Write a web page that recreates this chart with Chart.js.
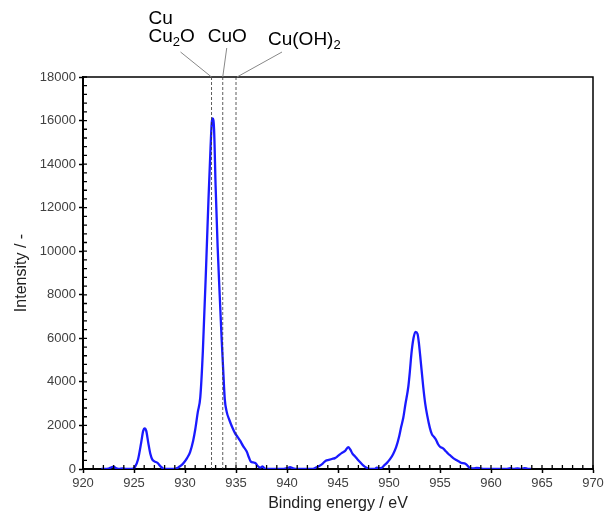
<!DOCTYPE html>
<html lang="en">
<head>
    <meta charset="UTF-8">
    <title>Cu 2p XPS spectrum</title>
    <style>
        body {
            margin: 0;
            padding: 0;
            background-color: #fff;
        }
        #chartBox {
            width: 614px;
            height: 513px;
        }
    </style>
    <script src="https://cdn.jsdelivr.net/npm/chart.js"></script>
</head>
<body>
    <div id="chartBox">
        <canvas id="xpsChart" width="614" height="513"></canvas>
    </div>
    <script>
        // binding energy (eV) and intensity
        var energy = [
            921.8, 922.2, 922.5, 922.8, 923.0, 923.2, 923.5, 923.9, 924.2, 924.8,
            925.1, 925.4, 925.7, 925.9, 926.05, 926.2, 926.4, 926.6, 926.8, 927.0,
            927.3, 927.6, 927.9, 928.2, 929.0, 929.3, 929.6, 929.9, 930.2, 930.5,
            930.8, 931.0, 931.25, 931.5, 931.75, 932.1, 932.3, 932.5, 932.62, 932.72,
            932.85, 933.0, 933.2, 933.4, 933.6, 933.75, 933.9, 934.1, 934.35, 934.6,
            934.9, 935.15, 935.4, 935.7, 936.05, 936.25, 936.45, 936.7, 936.9, 937.1,
            937.4, 937.6, 937.8, 938.2, 939.5, 940.0, 940.3, 940.6, 941.0, 942.5,
            942.8, 943.2, 943.5, 943.8, 944.1, 944.4, 944.7, 945.0, 945.35, 945.7,
            946.0, 946.2, 946.4, 946.7, 946.9, 947.2, 947.5, 947.8, 948.1, 948.6,
            948.8, 949.0, 949.3, 949.5, 949.8, 950.1, 950.4, 950.7, 951.0, 951.2,
            951.4, 951.6, 951.9, 952.05, 952.2, 952.4, 952.6, 952.8, 952.95, 953.1,
            953.35, 953.55, 953.75, 954.0, 954.2, 954.4, 954.6, 954.8, 955.0, 955.3,
            955.6, 955.8, 956.0, 956.3, 956.6, 956.9, 957.1, 957.4, 957.6, 957.8,
            958.0, 958.3, 958.6, 958.9, 959.3, 961.5, 961.9, 962.2, 962.6, 962.9,
            963.3, 963.6, 963.9
        ];
        var intensity = [
            0, 0, 20, 80, 110, 40, 0, 30, 0, 0,
            100, 450, 1200, 1750, 1870, 1750, 1200, 700, 430, 350,
            280, 120, 10, 0, 0, 60, 150, 300, 500, 780,
            1300, 1800, 2600, 3300, 5400, 9700, 12350, 14700, 15900, 16100,
            15600, 13000, 10200, 8000, 5900, 4500, 3200, 2600, 2250, 1950,
            1650, 1480, 1300, 1050, 800, 550, 340, 300, 280, 150,
            60, 120, 20, 0, 0, 40, 80, 30, 0, 0,
            60, 150, 250, 380, 420, 460, 500, 600, 730, 830,
            1000, 900, 720, 560, 450, 300, 160, 60, 0, 0,
            60, 40, 60, 150, 280, 450, 680, 1000, 1500, 1950,
            2350, 2950, 3800, 4500, 5300, 6000, 6300, 6200, 5700, 5000,
            3800, 3000, 2450, 1900, 1600, 1480, 1350, 1150, 1020, 950,
            800, 700, 620, 500, 410, 330, 280, 260, 200, 100,
            40, 30, 50, 40, 0, 0, 40, 0, 30, 0,
            40, 10, 0
        ];
        // reference positions (eV) for the marked species
        var refEnergy = [932.6, 933.7, 935.0];

        var points = energy.map(function (e, i) { return { x: e, y: intensity[i] }; });

        // frame, inner ticks, dashed reference lines and their labels
        var decorPlugin = {
            id: 'decor',
            afterDraw: function (chart) {
                var ctx = chart.ctx;
                var xs = chart.scales.x, ys = chart.scales.y;
                var a = chart.chartArea;
                ctx.save();

                // top and right frame
                ctx.strokeStyle = '#000';
                ctx.lineWidth = 1.5;
                ctx.beginPath();
                ctx.moveTo(a.left, a.top);
                ctx.lineTo(a.right, a.top);
                ctx.lineTo(a.right, a.bottom);
                ctx.stroke();

                // inner ticks
                ctx.lineWidth = 1.3;
                ctx.beginPath();
                for (var v = 920; v <= 970; v += 1) {
                    var px = xs.getPixelForValue(v);
                    ctx.moveTo(px, a.bottom);
                    ctx.lineTo(px, a.bottom - 4);
                }
                for (var w = 0; w <= 18000; w += 400) {
                    var py = ys.getPixelForValue(w);
                    ctx.moveTo(a.left, py);
                    ctx.lineTo(a.left + 4, py);
                }
                ctx.stroke();

                // dashed reference lines
                ctx.strokeStyle = '#333';
                ctx.lineWidth = 0.8;
                ctx.setLineDash([3, 2]);
                ctx.beginPath();
                var linePx = refEnergy.map(function (e) { return xs.getPixelForValue(e); });
                linePx.forEach(function (px) {
                    ctx.moveTo(px, a.top);
                    ctx.lineTo(px, a.bottom);
                });
                ctx.stroke();
                ctx.setLineDash([]);

                // connectors from labels
                ctx.strokeStyle = '#888';
                ctx.lineWidth = 1;
                ctx.beginPath();
                ctx.moveTo(linePx[0] - 31, a.top - 25);
                ctx.lineTo(linePx[0], a.top);
                ctx.moveTo(linePx[1] + 4, a.top - 29);
                ctx.lineTo(linePx[1], a.top);
                ctx.moveTo(linePx[2] + 46, a.top - 25);
                ctx.lineTo(linePx[2] + 1, a.top);
                ctx.stroke();

                // labels
                ctx.fillStyle = '#000';
                ctx.textBaseline = 'alphabetic';
                ctx.textAlign = 'left';
                function chem(parts, x, y) {
                    parts.forEach(function (p) {
                        var sub = p.charAt(0) === '_';
                        var t = sub ? p.slice(1) : p;
                        ctx.font = (sub ? '13px' : '19px') + ' "Liberation Sans", Arial, sans-serif';
                        ctx.fillText(t, x, sub ? y + 4 : y);
                        x += ctx.measureText(t).width;
                    });
                }
                chem(['Cu'], linePx[0] - 63, a.top - 53);
                chem(['Cu', '_2', 'O'], linePx[0] - 63, a.top - 35);
                chem(['CuO'], linePx[1] - 15, a.top - 35);
                chem(['Cu(OH)', '_2'], linePx[2] + 32, a.top - 32);

                ctx.restore();
            }
        };

        function plainNumber(value) {
            return String(value);
        }

        var ctx = document.getElementById('xpsChart').getContext('2d');
        var xpsChart = new Chart(ctx, {
            type: 'scatter',
            data: {
                datasets: [{
                    data: points,
                    showLine: true,
                    borderColor: '#1a1aff',
                    borderWidth: 2.3,
                    pointRadius: 0,
                    cubicInterpolationMode: 'monotone',
                    fill: false
                }]
            },
            options: {
                responsive: false,
                animation: false,
                layout: {
                    padding: { top: 77, right: 21, left: 0, bottom: 0 }
                },
                plugins: {
                    legend: { display: false },
                    tooltip: { enabled: false }
                },
                scales: {
                    x: {
                        type: 'linear',
                        min: 920,
                        max: 970,
                        afterFit: function (scale) { scale.height = 44; },
                        ticks: {
                            stepSize: 5,
                            padding: 3,
                            color: '#404040',
                            callback: plainNumber,
                            font: { family: '"Liberation Sans", Arial, sans-serif', size: 13 }
                        },
                        grid: {
                            drawOnChartArea: false,
                            tickLength: 4,
                            tickColor: '#000',
                            tickWidth: 1.5
                        },
                        border: { color: '#000', width: 2 },
                        title: {
                            display: true,
                            text: 'Binding energy / eV',
                            color: '#222',
                            padding: { top: 0, bottom: 0 },
                            font: { family: '"Liberation Sans", Arial, sans-serif', size: 16 }
                        }
                    },
                    y: {
                        min: 0,
                        max: 18000,
                        afterFit: function (scale) { scale.width = 83; },
                        ticks: {
                            stepSize: 2000,
                            padding: 3,
                            color: '#404040',
                            callback: plainNumber,
                            font: { family: '"Liberation Sans", Arial, sans-serif', size: 13 }
                        },
                        grid: {
                            drawOnChartArea: false,
                            tickLength: 4,
                            tickColor: '#000',
                            tickWidth: 1.5
                        },
                        border: { color: '#000', width: 2 },
                        title: {
                            display: true,
                            text: 'Intensity / -',
                            color: '#222',
                            padding: { top: 12, bottom: 0 },
                            font: { family: '"Liberation Sans", Arial, sans-serif', size: 16 }
                        }
                    }
                }
            },
            plugins: [decorPlugin]
        });
    </script>
</body>
</html>
